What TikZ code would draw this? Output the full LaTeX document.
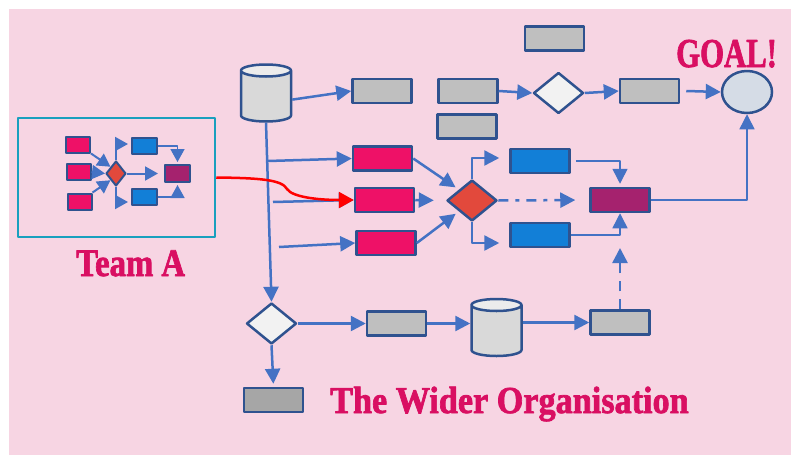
\documentclass[tikz,border=0pt]{standalone}
\usepackage{fontspec}
\setmainfont{Liberation Serif}
\newfontfamily\headfont[BoldFeatures={FakeBold=2}]{Liberation Serif}
\usetikzlibrary{arrows.meta,positioning,shapes.geometric,calc}
\definecolor{bgPink}{HTML}{F7D5E3}
\definecolor{lineBlue}{HTML}{4472C4}
\definecolor{edgeBlue}{HTML}{2F528F}
\definecolor{boxGray}{HTML}{BFBFBF}
\definecolor{darkGray}{HTML}{A6A6A6}
\definecolor{hotPink}{HTML}{EE1167}
\definecolor{procBlue}{HTML}{127FD7}
\definecolor{plum}{HTML}{A5226E}
\definecolor{tomato}{HTML}{E2493C}
\definecolor{teamTeal}{HTML}{19A0BE}
\definecolor{titlePink}{HTML}{D90F62}
\definecolor{goalFill}{HTML}{D5DCE6}
\definecolor{cylBody}{HTML}{D9D9D9}
\definecolor{cylTop}{HTML}{ECECEC}
\definecolor{choiceFill}{HTML}{F2F2F2}
\tikzstyle{grayBox}     =[draw=edgeBlue,fill=boxGray,rectangle,line width=2.5pt,minimum width=59pt,minimum height=24pt,inner sep=0pt]
\tikzstyle{pinkBox}     =[grayBox,fill=hotPink]
\tikzstyle{blueBox}     =[grayBox,fill=procBlue]
\tikzstyle{plumBox}     =[grayBox,fill=plum]
\tikzstyle{choice}      =[draw=edgeBlue,fill=choiceFill,diamond,line width=2.5pt,minimum width=50pt,minimum height=41pt,inner sep=0pt]
\tikzstyle{redChoice}   =[choice,fill=tomato]
\tikzstyle{store}       =[cylinder,shape border rotate=90,aspect=0.25,draw=edgeBlue,line width=2.5pt,cylinder uses custom fill,cylinder body fill=cylBody,cylinder end fill=cylTop,minimum width=50pt,minimum height=57pt,inner xsep=24pt,inner ysep=0pt,anchor=shape center]
\tikzstyle{miniBox}     =[draw=edgeBlue,rectangle,line width=2pt,minimum width=24pt,minimum height=16pt,inner sep=0pt]
\tikzstyle{flow}        =[draw=lineBlue,line width=2.5pt,-{Triangle[length=15pt,width=15pt]}]
\tikzstyle{thinFlow}    =[flow,line width=1.5pt]
\tikzstyle{miniFlow}    =[draw=lineBlue,line width=2pt,-{Triangle[length=13pt,width=14pt]}]
\tikzstyle{title}       =[text=titlePink,inner sep=0pt,anchor=base west]

\begin{document}
\begin{tikzpicture}[x=1pt,y=-1pt,line join=round]
\useasboundingbox (0,0) rectangle (791,455);
\fill[bgPink] (9,9) rectangle (791,455);

% team A and its little flow
\node [draw=teamTeal,line width=2.5pt,minimum width=197pt,minimum height=119pt] (teamA) at (116.5,177.5) {};
\node [miniBox,fill=hotPink] (mp1) at (78,144.5) {};
\node [miniBox,fill=hotPink] (mp2) at (78.5,172) {};
\node [miniBox,fill=hotPink] (mp3) at (79.5,201.5) {};
\node [draw=edgeBlue,fill=tomato,diamond,line width=2pt,minimum width=20pt,minimum height=25pt,inner sep=0pt] (md) at (116,173.5) {};
\node [miniBox,fill=procBlue,minimum width=25pt] (mb1) at (144.5,146) {};
\node [miniBox,fill=procBlue,minimum width=25pt] (mb2) at (144.5,197) {};
\node [miniBox,fill=plum,minimum width=25pt,minimum height=17pt] (mm) at (177.5,173.5) {};
\draw[miniFlow] (mp1.south east) -- (md.north west);
\draw[miniFlow] (mp2.east) -- (md.west);
\draw[miniFlow] (mp3.north east) -- (md.south west);
\draw[miniFlow,shorten >=3pt] (md.north) |- ([yshift=2pt]mb1.west);
\draw[miniFlow,shorten >=3pt] (md.south) |- ([yshift=-5pt]mb2.west);
\draw[miniFlow,shorten >=6pt] (md.east) -- (mm.west);
\draw[miniFlow,line width=1.5pt,shorten >=2pt] (mb1.east) -| (mm.north);
\draw[miniFlow,line width=1.5pt,shorten >=2pt] (mb2.east) -| (mm.south);
\node [title,font=\headfont\fontsize{39}{42}\selectfont\bfseries] (teamLbl) at (76,276) {\scalebox{0.84}[1]{Team A}};

% the wider organisation
\node [store] (cyl1) at (266,93) {};
\node [grayBox] (g1) at (382,91) {};
\node [grayBox] (g2) at (554.5,38.5) {};
\node [grayBox] (g3) at (468,91) {};
\node [grayBox] (g4) at (467,126.5) {};
\node [choice] (d1) at (558.5,93) {};
\node [grayBox] (g5) at (649.5,91) {};
\node [draw=edgeBlue,fill=goalFill,ellipse,line width=2.5pt,minimum width=50pt,minimum height=42pt,inner sep=0pt] (goal) at (747,92) {};
\node [title,font=\headfont\fontsize{41}{44}\selectfont\bfseries] (goalLbl) at (676,67) {\scalebox{0.75}[1]{GOAL!}};

\node [pinkBox] (p1) at (382.5,158.5) {};
\node [pinkBox] (p2) at (384.5,200) {};
\node [pinkBox] (p3) at (386,243) {};
\node [redChoice] (rd) at (472,200.5) {};
\node [blueBox] (b1) at (540,161) {};
\node [blueBox] (b2) at (540,235) {};
\node [plumBox] (m) at (620,200) {};

\node [choice] (d2) at (271.5,323.5) {};
\node [grayBox] (g6) at (396.5,323.5) {};
\node [store] (cyl2) at (496.5,327.5) {};
\node [grayBox] (g8) at (620,322.5) {};
\node [grayBox,fill=darkGray] (g7) at (273.5,400) {};
\node [title,font=\headfont\fontsize{38}{41}\selectfont\bfseries] (orgLbl) at (330,413) {\scalebox{0.9}[1]{The Wider Organisation}};

\coordinate (br1) at (268,161);
\coordinate (br2) at (273,202);
\coordinate (br3) at (279,247);
\coordinate (dashEnd) at (620,248);

\draw[flow] (cyl1.east) -- (g1.west);
\draw[flow] (cyl1.south) -- (d2.north);
\draw[flow] (br1) -- (p1.west);
\draw[flow] (br2) -- (p2.west);
\draw[flow] (br3) -- (p3.west);
\draw[flow] (g3.east) -- (d1.west);
\draw[flow] (d1.east) -- (g5.west);
\draw[flow] ([xshift=6pt]g5.east) -- (goal.west);
\draw[flow,shorten >=4pt] (p1.east) -- (rd.north west);
\draw[flow,shorten >=12pt] (p2.east) -- (rd.west);
\draw[flow,shorten >=4pt] (p3.east) -- (rd.south west);
\draw[flow,shorten >=10pt] (rd.north) |- ([yshift=3pt]b1.west);
\draw[flow,shorten >=10pt] (rd.south) |- ([yshift=-8pt]b2.west);
\draw[flow,shorten >=14pt,dash pattern=on 10pt off 7pt on 4pt off 7pt] (rd.east) -- (m.west);
\draw[thinFlow,shorten >=3pt] ([xshift=5pt]b1.east) -| (m.north);
\draw[thinFlow] (b2.east) -| (m.south);
\draw[thinFlow] (m.east) -| (goal.south);
\draw[flow] (d2.east) -- (g6.west);
\draw[flow] (g6.east) -- (g6.east -| cyl2.west);
\draw[flow] (cyl2.east |- g8.west) -- (g8.west);
\draw[flow,shorten >=3pt] (d2.south) -- (g7.north);
\draw[flow,dash pattern=on 10pt off 8pt] (g8.north) -- (dashEnd);

% team A feeds in
\draw[red,line width=2.5pt,-{Triangle[length=15pt,width=16pt]}] (teamA.east) .. controls (262,178) and (282,180) .. (287,189) .. controls (292,197) and (318,200) .. (p2.west);
\end{tikzpicture}
\end{document}
